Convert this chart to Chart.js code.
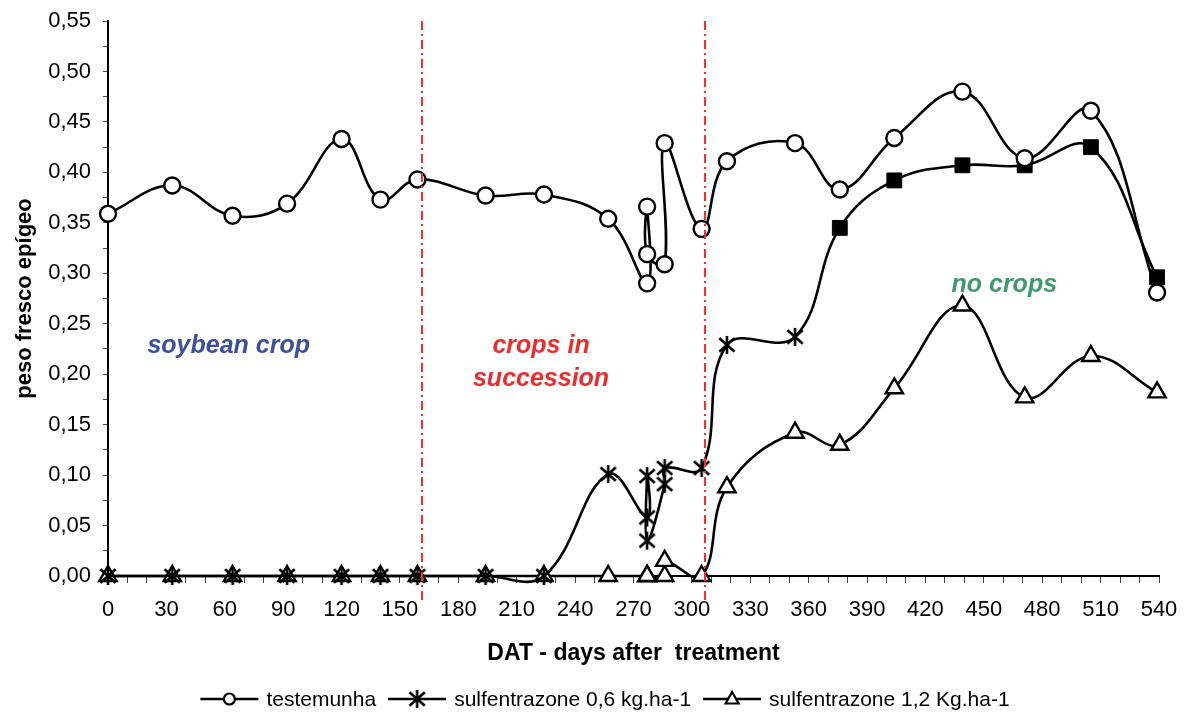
<!DOCTYPE html>
<html>
<head>
<meta charset="utf-8">
<title>peso fresco epígeo</title>
<script src="https://cdn.jsdelivr.net/npm/chart.js@4.4.1/dist/chart.umd.min.js"></script>
<style>
  html, body { margin: 0; padding: 0; background: #fff; }
  #wrap { width: 1184px; height: 712px; position: relative; }
</style>
</head>
<body>
<div id="wrap"><canvas id="chart"></canvas></div>
<script>
// days after treatment (shared by the three series)
const days = [0, 33, 64, 92, 120, 140, 159, 194, 224, 257, 277, 277, 277, 286, 286, 305, 318, 353, 376, 404, 439, 471, 505, 539];
const testemunha = [0.359, 0.387, 0.357, 0.369, 0.433, 0.373, 0.393, 0.377, 0.378, 0.354, 0.290, 0.366, 0.319, 0.309, 0.429, 0.344, 0.411, 0.429, 0.383, 0.434, 0.480, 0.414, 0.461, 0.281];
const sulf06 = [0, 0, 0, 0, 0, 0, 0, 0, 0, 0.101, 0.058, 0.099, 0.035, 0.091, 0.107, 0.107, 0.229, 0.237, 0.345, 0.392, 0.407, 0.407, 0.425, 0.296];
const sulf12 = [0, 0, 0, 0, 0, 0, 0, 0, 0, 0, 0, 0, 0, 0, 0.015, 0, 0.088, 0.142, 0.130, 0.186, 0.268, 0.177, 0.218, 0.182];
const seriesLabels = ['testemunha', 'sulfentrazone 0,6 kg.ha-1', 'sulfentrazone 1,2 Kg.ha-1'];

// tick labels
const xTickLabels = ['0', '30', '60', '90', '120', '150', '180', '210', '240', '270', '300', '330', '360', '390', '420', '450', '480', '510', '540'];
const yTickLabels = ['0,00', '0,05', '0,10', '0,15', '0,20', '0,25', '0,30', '0,35', '0,40', '0,45', '0,50', '0,55'];

// phase boundaries (DAT) and phase notes
const phaseLimits = [161.5, 306.5];
const phaseNotes = [
    { text: 'soybean crop', x: 62, y: 0.221, color: '#3b4ea0' },
    { text: 'crops in', x: 222.5, y: 0.221, color: '#ee2a2a' },
    { text: 'succession', x: 222.5, y: 0.188, color: '#ee2a2a' },
    { text: 'no crops', x: 460.5, y: 0.281, color: '#3d9a6b' }
];

const FONT = '"Liberation Sans", Arial, sans-serif';

// Excel-like star marker (vertical bar + X)
function makeStar(size, lw) {
    const c = document.createElement('canvas');
    c.width = c.height = size;
    const g = c.getContext('2d');
    const m = size / 2, r = size / 2 - 1;
    g.strokeStyle = '#000';
    g.lineWidth = lw;
    g.beginPath();
    g.moveTo(m, m - r); g.lineTo(m, m + r);
    g.moveTo(m - r * 0.85, m - r * 0.75); g.lineTo(m + r * 0.85, m + r * 0.75);
    g.moveTo(m - r * 0.85, m + r * 0.75); g.lineTo(m + r * 0.85, m - r * 0.75);
    g.stroke();
    return c;
}
const starImg = makeStar(20, 2.6);

const toPoints = vals => vals.map((v, i) => ({ x: days[i], y: v }));

// sulfentrazone 0,6: stars up to 353 DAT, filled squares afterwards
const sulf06Style = days.map(d => d <= 353 ? starImg : 'rect');
const sulf06Radius = days.map(d => d <= 353 ? 9 : 10.5);

const phasePlugin = {
    id: 'phases',
    afterDatasetsDraw(chart) {
        const { ctx, chartArea, scales: { x, y } } = chart;
        ctx.save();
        ctx.strokeStyle = '#ff2a2a';
        ctx.lineWidth = 2;
        ctx.setLineDash([9, 4, 2, 4]);
        phaseLimits.forEach(d => {
            const px = Math.round(x.getPixelForValue(d));
            ctx.beginPath();
            ctx.moveTo(px, chartArea.top);
            ctx.lineTo(px, chartArea.bottom + 24);
            ctx.stroke();
        });
        ctx.setLineDash([]);
        ctx.font = 'italic bold 25px ' + FONT;
        ctx.textAlign = 'center';
        ctx.textBaseline = 'alphabetic';
        phaseNotes.forEach(n => {
            ctx.fillStyle = n.color;
            ctx.fillText(n.text, x.getPixelForValue(n.x), y.getPixelForValue(n.y));
        });
        ctx.restore();
    }
};

// legend drawn as line + marker, like the spreadsheet original
const legendPlugin = {
    id: 'lineLegend',
    afterDraw(chart) {
        const { ctx } = chart;
        const cy = 699, lineLen = 58, gap = 8, spacing = 12;
        ctx.save();
        ctx.font = '21px ' + FONT;
        const widths = seriesLabels.map(t => ctx.measureText(t).width);
        const total = widths.reduce((a, w) => a + lineLen + gap + w, 0) + spacing * (seriesLabels.length - 1);
        let x = 605 - total / 2;
        seriesLabels.forEach((label, i) => {
            ctx.strokeStyle = '#000';
            ctx.lineWidth = 2.5;
            ctx.beginPath();
            ctx.moveTo(x, cy);
            ctx.lineTo(x + lineLen, cy);
            ctx.stroke();
            const mx = x + lineLen / 2;
            ctx.fillStyle = '#fff';
            ctx.lineWidth = 2.2;
            if (i === 0) {
                ctx.beginPath();
                ctx.arc(mx, cy, 5.5, 0, Math.PI * 2);
                ctx.fill(); ctx.stroke();
            } else if (i === 1) {
                ctx.drawImage(starImg, mx - 10, cy - 10);
            } else {
                ctx.beginPath();
                ctx.moveTo(mx, cy - 7);
                ctx.lineTo(mx + 6.5, cy + 4.5);
                ctx.lineTo(mx - 6.5, cy + 4.5);
                ctx.closePath();
                ctx.fill(); ctx.stroke();
            }
            ctx.fillStyle = '#000';
            ctx.textAlign = 'left';
            ctx.textBaseline = 'middle';
            ctx.fillText(label, x + lineLen + gap, cy + 1);
            x += lineLen + gap + widths[i] + spacing;
        });
        ctx.restore();
    }
};

new Chart(document.getElementById('chart'), {
    type: 'line',
    data: {
        datasets: [{
            label: seriesLabels[0],
            data: toPoints(testemunha),
            borderColor: '#000',
            borderWidth: 2.6,
            pointStyle: 'circle',
            pointRadius: 8,
            pointBackgroundColor: '#fff',
            pointBorderColor: '#000',
            pointBorderWidth: 2.4,
            tension: 0.4,
            clip: false
        }, {
            label: seriesLabels[1],
            data: toPoints(sulf06),
            borderColor: '#000',
            borderWidth: 2.6,
            pointStyle: sulf06Style,
            pointRadius: sulf06Radius,
            pointBackgroundColor: '#000',
            pointBorderColor: '#000',
            pointBorderWidth: 1,
            tension: 0.4,
            clip: false
        }, {
            label: seriesLabels[2],
            data: toPoints(sulf12),
            borderColor: '#000',
            borderWidth: 2.6,
            pointStyle: 'triangle',
            pointRadius: 10,
            pointBackgroundColor: '#fff',
            pointBorderColor: '#000',
            pointBorderWidth: 2.4,
            tension: 0.4,
            clip: false
        }]
    },
    options: {
        responsive: true,
        maintainAspectRatio: false,
        animation: false,
        layout: { padding: { top: 21, right: 25, bottom: 36, left: 0 } },
        elements: { line: { capBezierPoints: false } },
        plugins: {
            legend: { display: false },
            tooltip: { enabled: false }
        },
        scales: {
            x: {
                type: 'linear',
                min: 0,
                max: 540,
                afterFit: s => { s.height = 100; s.paddingLeft = 0; s.paddingRight = 0; },
                grid: { display: true, drawOnChartArea: false, drawTicks: true, tickLength: 7, color: '#444' },
                border: { display: true, color: '#000', width: 2 },
                ticks: {
                    stepSize: 10,
                    autoSkip: false,
                    maxRotation: 0,
                    padding: 14,
                    color: '#000',
                    font: { family: FONT, size: 22 },
                    callback: v => (v % 30 === 0 ? xTickLabels[v / 30] : '')
                },
                title: {
                    display: true,
                    text: 'DAT - days after  treatment',
                    color: '#000',
                    font: { family: FONT, size: 23, weight: 'bold' },
                    padding: { top: 0, bottom: 9 }
                }
            },
            y: {
                min: 0,
                max: 0.55,
                afterFit: s => { s.width = 108; s.paddingTop = 0; s.paddingBottom = 0; },
                grid: { display: true, drawOnChartArea: false, drawTicks: true, tickLength: 5, color: '#444' },
                border: { display: true, color: '#000', width: 2 },
                ticks: {
                    stepSize: 0.025,
                    autoSkip: false,
                    padding: 12,
                    color: '#000',
                    font: { family: FONT, size: 22 },
                    callback: v => {
                        const k = Math.round(v * 1000);
                        return k % 50 === 0 ? yTickLabels[k / 50] : '';
                    }
                },
                title: {
                    display: true,
                    text: 'peso fresco epígeo',
                    color: '#000',
                    font: { family: FONT, size: 22, weight: 'bold' },
                    padding: { top: 12, bottom: 0 }
                }
            }
        }
    },
    plugins: [phasePlugin, legendPlugin]
});
</script>
</body>
</html>
